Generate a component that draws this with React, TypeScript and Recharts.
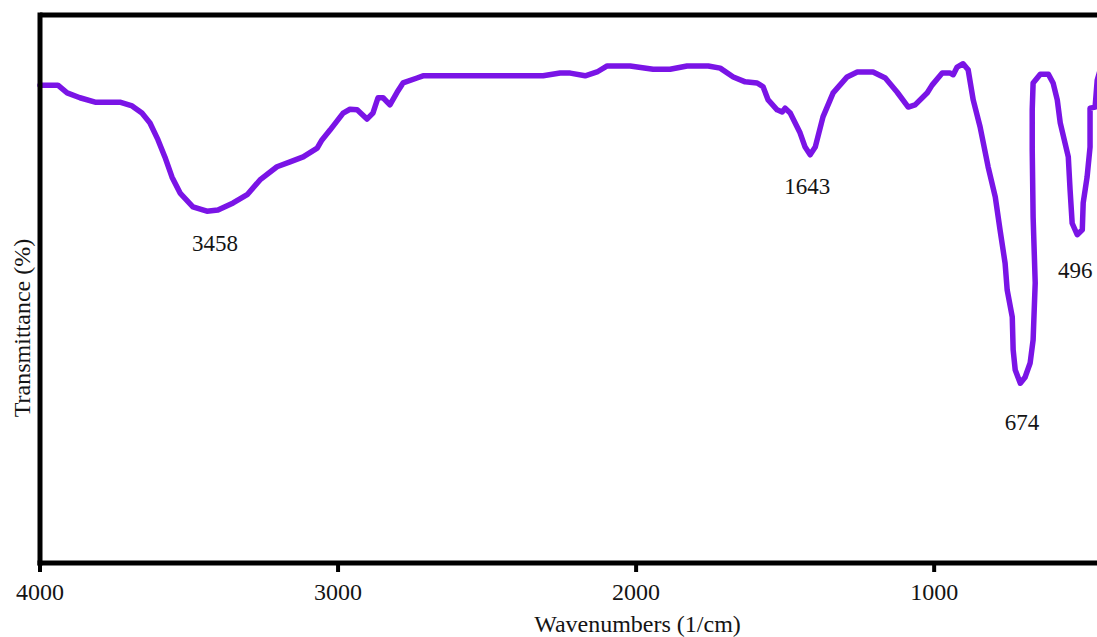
import React from "react";
import {
  LineChart,
  Line,
  XAxis,
  YAxis,
  ReferenceLine,
  ReferenceDot,
} from "recharts";

// spectrum: wavenumber (1/cm) vs transmittance (%)
const wavenumbers = [
  4000, 3940, 3909, 3866, 3815, 3732, 3691, 3658, 3631, 3604, 3581, 3557, 3530,
  3487, 3440, 3403, 3352, 3305, 3262, 3205, 3161, 3117, 3070, 3054, 3027, 2983,
  2960, 2936, 2903, 2883, 2866, 2849, 2826, 2802, 2782, 2735, 2715, 2581, 2312,
  2255, 2221, 2171, 2131, 2097, 2020, 1943, 1886, 1829, 1758, 1718, 1674, 1634,
  1594, 1574, 1557, 1527, 1510, 1500, 1483, 1450, 1433, 1416, 1399, 1373, 1339,
  1292, 1258, 1205, 1164, 1124, 1087, 1064, 1023, 1007, 973, 946, 936, 923, 903,
  886, 869, 846, 819, 795, 779, 762, 755, 738, 735, 728, 711, 695, 678, 668, 661,
  668, 671, 671, 668, 644, 617, 601, 587, 577, 550, 544, 537, 520, 503, 500, 487,
  477, 477, 460, 453, 443,
];
const transmittance = [
  87.2, 87.2, 85.8, 84.9, 84.1, 84.1, 83.4, 82.1, 80.3, 77.2, 74.1, 70.4, 67.5,
  65.0, 64.2, 64.4, 65.7, 67.2, 69.9, 72.3, 73.2, 74.1, 75.7, 77.2, 79.0, 82.1,
  82.8, 82.7, 81.0, 82.1, 84.9, 84.9, 83.6, 85.9, 87.6, 88.5, 88.9, 88.9, 88.9,
  89.4, 89.4, 88.9, 89.6, 90.7, 90.7, 90.1, 90.1, 90.7, 90.7, 90.3, 88.7, 87.8,
  87.6, 86.9, 84.5, 82.7, 82.3, 83.0, 82.1, 78.5, 75.9, 74.5, 75.9, 81.4, 85.8,
  88.7, 89.6, 89.6, 88.5, 85.9, 83.2, 83.6, 85.8, 87.2, 89.4, 89.4, 89.1, 90.5,
  91.1, 90.0, 84.5, 79.6, 72.3, 66.8, 60.8, 54.7, 49.8, 44.9, 38.9, 35.2, 32.8,
  33.9, 36.5, 40.7, 51.1, 63.1, 75.4, 82.7, 87.6, 89.2, 89.2, 87.6, 84.5, 80.3,
  74.1, 68.1, 62.0, 59.9, 60.8, 65.7, 70.4, 75.9, 83.0, 83.2, 88.1, 90.0,
];

const xTicks = [4000, 3000, 2000, 1000];

// peak annotations (text, and where the text sits in data units)
const peakLabels = ["3458", "1643", "674", "496"];
const peakLabelX = [3413, 1426, 705, 527];
const peakLabelY = [58.4, 68.8, 25.7, 53.5];

const data = wavenumbers.map((w, i) => ({ w, t: transmittance[i] }));

const FONT = "'Liberation Serif', 'Times New Roman', serif";
const INK = "#141414";
const PURPLE = "#7a14e6";

export default function App() {
  return (
    <div
      style={{
        position: "fixed",
        left: 0,
        top: 0,
        width: 1097,
        height: 637,
        overflow: "hidden",
        background: "#fff",
        fontFamily: FONT,
      }}
    >
      <LineChart
        width={1113}
        height={637}
        data={data}
        margin={{ top: 15, right: 0, bottom: 0, left: 8 }}
        style={{ fontFamily: FONT }}
      >
        <XAxis
          dataKey="w"
          type="number"
          domain={[400, 4000]}
          reversed
          ticks={xTicks}
          interval={0}
          height={74}
          tickSize={9}
          tickMargin={11}
          axisLine={{ stroke: "#000", strokeWidth: 5, strokeLinecap: "square" }}
          tickLine={{ stroke: "#000", strokeWidth: 4 }}
          tick={{ fill: INK, fontSize: 24, fontFamily: FONT }}
          label={{
            value: "Wavenumbers (1/cm)",
            position: "insideBottom",
            offset: 5,
            dx: 61,
            fill: INK,
            fontSize: 24,
            fontFamily: FONT,
          }}
        />
        <YAxis
          type="number"
          domain={[0, 100]}
          width={32}
          tick={false}
          tickLine={false}
          axisLine={{ stroke: "#000", strokeWidth: 5, strokeLinecap: "square" }}
          label={{
            content: (props: any) => {
              const vb = props.viewBox || { x: 8, y: 15, width: 32, height: 548 };
              const cx = vb.x + 14;
              const cy = vb.y + vb.height / 2 + 39;
              return (
                <text
                  x={cx}
                  y={cy}
                  transform={`rotate(-90 ${cx} ${cy})`}
                  textAnchor="middle"
                  dominantBaseline="central"
                  fill={INK}
                  fontSize={24}
                  fontFamily={FONT}
                >
                  Transmittance (%)
                </text>
              );
            },
          }}
        />
        {/* top edge of the frame */}
        <ReferenceLine y={100} stroke="#000" strokeWidth={5} />
        <Line
          type="linear"
          dataKey="t"
          stroke={PURPLE}
          strokeWidth={5.5}
          strokeLinejoin="round"
          strokeLinecap="round"
          dot={false}
          activeDot={false}
          isAnimationActive={false}
        />
        {peakLabels.map((txt, i) => (
          <ReferenceDot
            key={txt}
            x={peakLabelX[i]}
            y={peakLabelY[i]}
            r={0}
            fill="none"
            stroke="none"
            label={{
              value: txt,
              position: "center",
              fill: INK,
              fontSize: 23,
              fontFamily: FONT,
            }}
          />
        ))}
      </LineChart>
    </div>
  );
}
